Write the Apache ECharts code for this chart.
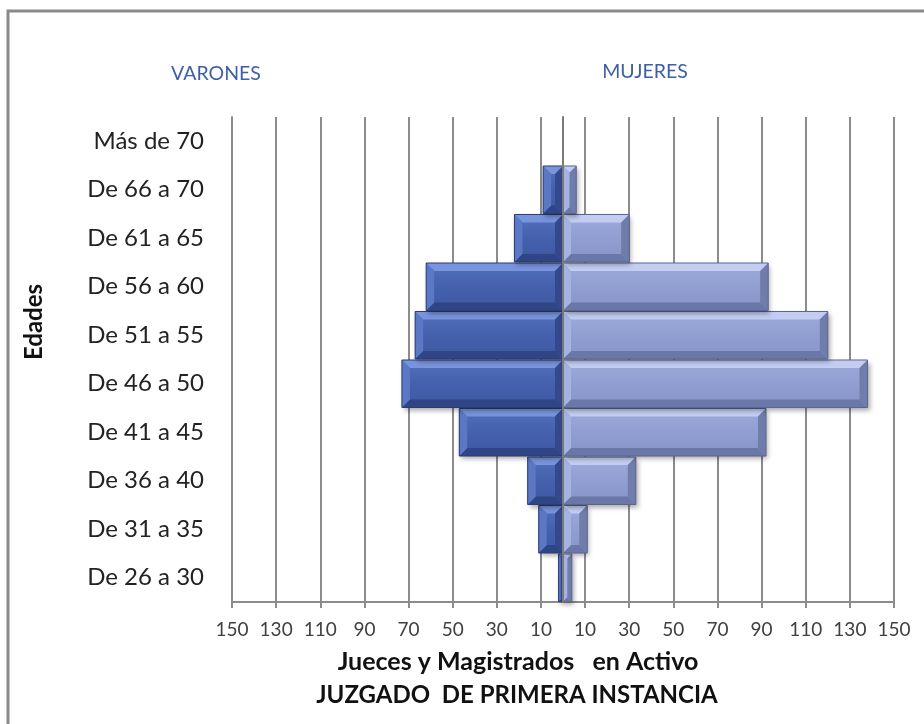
<!DOCTYPE html>
<html>
<head>
<meta charset="utf-8">
<title>Jueces y Magistrados en Activo</title>
<script src="https://cdn.jsdelivr.net/npm/echarts@6/dist/echarts.min.js"></script>
<style>
  html, body { margin: 0; padding: 0; background: #ffffff; }
  #chart { width: 924px; height: 724px; }
</style>
</head>
<body>
<div id="chart"></div>
<script>
// Age groups, bottom to top
const edades = ['De 26 a 30', 'De 31 a 35', 'De 36 a 40', 'De 41 a 45', 'De 46 a 50',
                'De 51 a 55', 'De 56 a 60', 'De 61 a 65', 'De 66 a 70', 'Más de 70'];
// Number of judges per age group
const varones = [2, 11, 16, 47, 73, 67, 62, 22, 9, 0];
const mujeres = [4, 11, 33, 92, 138, 120, 93, 30, 6, 0];
// Value axis: ticks every 20 from -150 to 150, labelled without sign
const ejeMin = -150, ejeMax = 150, ejeIntervalo = 20;

const FONT = 'Lato, "Open Sans", sans-serif';

// Colour palettes for the bevelled bars
const paletas = {
  varones: { face: ['#5270bd', '#4561ae', '#3d58a2'], top: '#7894dd', bottom: '#2f4585',
             left: '#5a78c6', right: '#33498c', stroke: '#2c3d70' },
  mujeres: { face: ['#9daadb', '#909ed1', '#8794c8'], top: '#c3cdf2', bottom: '#6b77a6',
             left: '#a6b3e2', right: '#707ca9', stroke: '#5a6590' }
};

function bevelBar(pal) {
  return function (params, api) {
    const cat = api.value(0);
    const val = api.value(1);
    if (!val) return null;
    const p0 = api.coord([0, cat]);
    const p1 = api.coord([val, cat]);
    const h = api.size([0, 1])[1] * 0.98;
    const x0 = Math.min(p0[0], p1[0]);
    const x1 = Math.max(p0[0], p1[0]);
    const y0 = p0[1] - h / 2;
    const y1 = p0[1] + h / 2;
    const w = x1 - x0;
    const b = Math.min(8, w / 2, h / 2);
    const poly = (pts, fill) => ({ type: 'polygon', shape: { points: pts }, style: { fill: fill } });
    return {
      type: 'group',
      children: [
        {
          type: 'rect',
          shape: { x: x0, y: y0, width: w, height: h },
          style: {
            fill: new echarts.graphic.LinearGradient(0, 0, 0, 1, [
              { offset: 0, color: pal.face[0] },
              { offset: 0.5, color: pal.face[1] },
              { offset: 1, color: pal.face[2] }
            ]),
            shadowBlur: 5, shadowOffsetX: 2, shadowOffsetY: 3, shadowColor: 'rgba(0,0,0,0.35)'
          }
        },
        poly([[x0, y0], [x1, y0], [x1 - b, y0 + b], [x0 + b, y0 + b]], pal.top),
        poly([[x0, y1], [x1, y1], [x1 - b, y1 - b], [x0 + b, y1 - b]], pal.bottom),
        poly([[x0, y0], [x0 + b, y0 + b], [x0 + b, y1 - b], [x0, y1]], pal.left),
        poly([[x1, y0], [x1 - b, y0 + b], [x1 - b, y1 - b], [x1, y1]], pal.right),
        {
          type: 'rect',
          shape: { x: x0, y: y0, width: w, height: h },
          style: { fill: 'none', stroke: pal.stroke, lineWidth: 1 }
        }
      ]
    };
  };
}

const chart = echarts.init(document.getElementById('chart'));

chart.setOption({
  backgroundColor: '#ffffff',
  animation: false,
  grid: { left: 232, right: 30, top: 117, bottom: 122 },
  xAxis: {
    type: 'value',
    min: ejeMin,
    max: ejeMax,
    interval: ejeIntervalo,
    axisLine: { show: true, lineStyle: { color: '#8c8c8c', width: 2 } },
    axisTick: { show: true, length: 6, lineStyle: { color: '#8c8c8c', width: 2 } },
    axisLabel: {
      formatter: v => String(Math.abs(v)),
      fontFamily: FONT, fontSize: 19, color: '#404040', margin: 18
    },
    splitLine: { show: true, lineStyle: { color: '#8c8c8c', width: 2 } }
  },
  yAxis: [
    {
      type: 'category',
      data: edades,
      position: 'left',
      axisLine: { show: true, onZero: false, lineStyle: { color: '#8c8c8c', width: 2 } },
      axisTick: { show: false },
      axisLabel: { fontFamily: FONT, fontSize: 24, color: '#222222', margin: 28 },
      splitLine: { show: false }
    },
    {
      type: 'category',
      data: edades,
      position: 'left',
      z: 10,
      axisLine: { show: true, onZero: true, lineStyle: { color: '#7a7a7a', width: 2 } },
      axisTick: { show: false },
      axisLabel: { show: false },
      splitLine: { show: false }
    }
  ],
  series: [
    {
      name: 'VARONES',
      type: 'custom',
      yAxisIndex: 0,
      encode: { x: 1, y: 0 },
      renderItem: bevelBar(paletas.varones),
      data: varones.map((v, i) => [i, -v]),
      z: 3
    },
    {
      name: 'MUJERES',
      type: 'custom',
      yAxisIndex: 0,
      encode: { x: 1, y: 0 },
      renderItem: bevelBar(paletas.mujeres),
      data: mujeres.map((v, i) => [i, v]),
      z: 3
    }
  ],
  graphic: [
    {
      type: 'rect', z: 0, silent: true,
      shape: { x: 8, y: 11, width: 940, height: 740 },
      style: { fill: 'none', stroke: '#8a8a8a', lineWidth: 3 }
    },
    {
      type: 'text',
      style: { text: 'VARONES', x: 216, y: 74, align: 'center', verticalAlign: 'middle',
               fontFamily: FONT, fontSize: 19.5, fill: '#3d5ea8' }
    },
    {
      type: 'text',
      style: { text: 'MUJERES', x: 645, y: 72, align: 'center', verticalAlign: 'middle',
               fontFamily: FONT, fontSize: 19.5, fill: '#3d5ea8' }
    },
    {
      type: 'text',
      style: { text: 'Jueces y Magistrados   en Activo', x: 518, y: 662, align: 'center',
               verticalAlign: 'middle', fontFamily: FONT, fontSize: 25, fontWeight: 'bold', fill: '#111111' }
    },
    {
      type: 'text',
      style: { text: 'JUZGADO  DE PRIMERA INSTANCIA', x: 517, y: 695, align: 'center',
               verticalAlign: 'middle', fontFamily: FONT, fontSize: 24, fontWeight: 'bold', fill: '#111111' }
    },
    {
      type: 'text', rotation: Math.PI / 2, x: 34, y: 322,
      style: { text: 'Edades', x: 0, y: 0, align: 'center', verticalAlign: 'middle',
               fontFamily: FONT, fontSize: 24, fontWeight: 'bold', fill: '#111111' }
    }
  ]
});
</script>
</body>
</html>
